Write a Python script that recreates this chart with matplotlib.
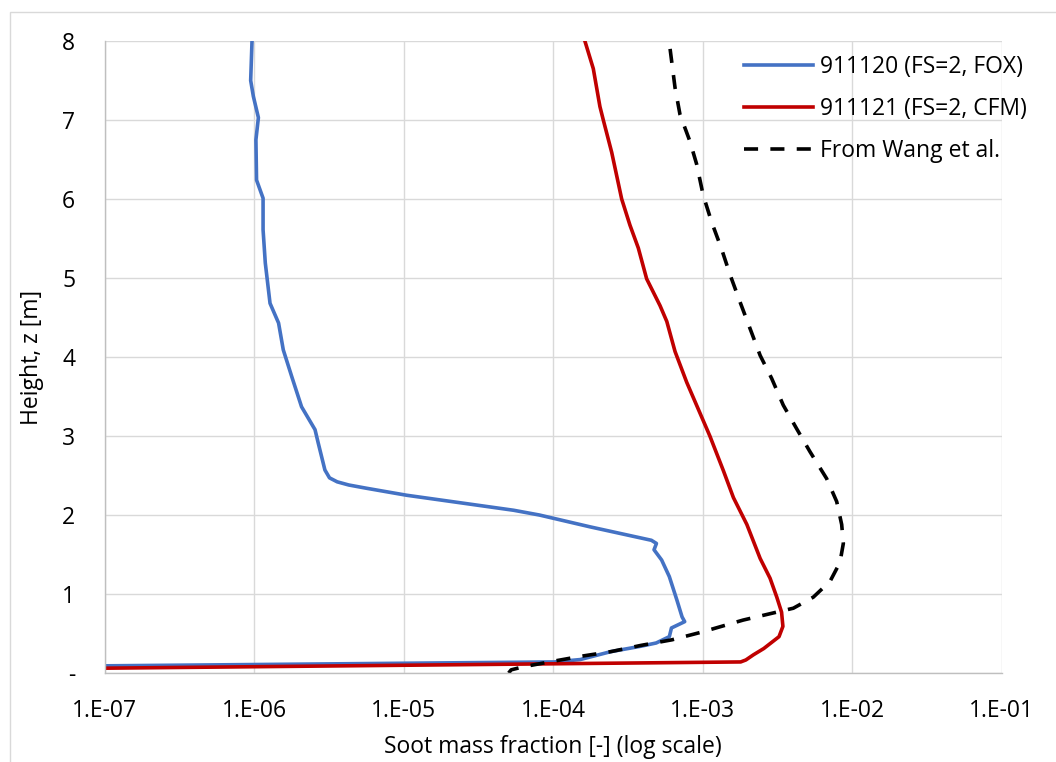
import matplotlib
matplotlib.use("Agg")
import matplotlib.pyplot as plt
from matplotlib.patches import Rectangle
from matplotlib.ticker import FixedLocator, FixedFormatter

plt.rcParams['font.family'] = ['Open Sans', 'DejaVu Sans']

# 911120 (FS=2, FOX): soot mass fraction vs height
fox_z = [8.0, 7.5, 7.3, 7.03, 6.75, 6.24, 6.01, 5.61, 5.19, 4.68, 4.43, 4.09, 3.75, 3.37,
         3.08, 2.91, 2.57, 2.47, 2.42, 2.38, 2.34, 2.30, 2.25, 2.15, 2.06, 2.00, 1.85,
         1.68, 1.64, 1.56, 1.43, 1.22, 0.92, 0.71, 0.65, 0.57, 0.46, 0.38, 0.34, 0.27,
         0.17, 0.14, 0.09]
fox_y = [9.7e-7, 9.5e-7, 9.9e-7, 1.07e-6, 1.03e-6, 1.04e-6, 1.15e-6, 1.15e-6, 1.19e-6,
         1.28e-6, 1.46e-6, 1.57e-6, 1.79e-6, 2.08e-6, 2.56e-6, 2.69e-6, 2.98e-6, 3.2e-6,
         3.6e-6, 4.3e-6, 5.6e-6, 7.4e-6, 1.05e-5, 2.5e-5, 5.45e-5, 8.1e-5, 1.77e-4,
         4.55e-4, 4.92e-4, 4.74e-4, 5.33e-4, 6.0e-4, 6.75e-4, 7.3e-4, 7.6e-4, 6.2e-4,
         6.0e-4, 4.9e-4, 3.9e-4, 2.43e-4, 1.52e-4, 1.02e-4, 9.0e-8]

# 911121 (FS=2, CFM)
cfm_z = [7.99, 7.65, 7.17, 7.0, 6.59, 6.0, 5.67, 5.38, 4.99, 4.65, 4.45, 4.07, 3.68,
         3.29, 3.0, 2.56, 2.22, 1.88, 1.45, 1.20, 0.96, 0.77, 0.59, 0.46, 0.31, 0.23,
         0.165, 0.14, 0.06]
cfm_y = [1.64e-4, 1.86e-4, 2.06e-4, 2.17e-4, 2.47e-4, 2.88e-4, 3.27e-4, 3.72e-4,
         4.23e-4, 5.2e-4, 5.77e-4, 6.55e-4, 7.84e-4, 9.62e-4, 1.12e-3, 1.38e-3,
         1.61e-3, 1.98e-3, 2.43e-3, 2.83e-3, 3.14e-3, 3.38e-3, 3.45e-3, 3.25e-3,
         2.57e-3, 2.19e-3, 1.95e-3, 1.80e-3, 9.0e-8]

# From Wang et al.
wang_z = [7.90, 7.41, 7.07, 6.73, 6.44, 6.05, 5.71, 5.37, 5.04, 4.70, 4.36, 4.02, 3.73,
          3.39, 3.09, 2.80, 2.46, 2.17, 1.88, 1.64, 1.40, 1.16, 0.96, 0.82, 0.67, 0.52,
          0.42, 0.35, 0.27, 0.21, 0.14, 0.08, 0.04, 0.0]
wang_y = [6.07e-4, 6.55e-4, 7.07e-4, 8.24e-4, 9.14e-4, 1.01e-3, 1.15e-3, 1.34e-3,
          1.53e-3, 1.78e-3, 2.08e-3, 2.43e-3, 2.90e-3, 3.47e-3, 4.27e-3, 5.24e-3,
          6.77e-3, 7.90e-3, 8.53e-3, 8.75e-3, 8.31e-3, 7.13e-3, 5.51e-3, 4.05e-3,
          1.87e-3, 9.98e-4, 6.24e-4, 3.89e-4, 2.43e-4, 1.52e-4, 9.46e-5, 6.38e-5,
          5.25e-5, 5.05e-5]

x_ticks = [1e-7, 1e-6, 1e-5, 1e-4, 1e-3, 1e-2, 1e-1]
x_labels = ['1.E-07', '1.E-06', '1.E-05', '1.E-04', '1.E-03', '1.E-02', '1.E-01']
y_ticks = [0, 1, 2, 3, 4, 5, 6, 7, 8]
y_labels = ['-', '1', '2', '3', '4', '5', '6', '7', '8']

W, H = 1056, 762
fig = plt.figure(figsize=(W / 100, H / 100), dpi=100)
ax = fig.add_axes([104.5 / W, (H - 673) / H, (1001.5 - 104.5) / W, (673 - 41) / H])

# chart area border (cropped on right/bottom)
fig.patches.append(Rectangle((10 / W, -0.1), 1.2, 1 - 12 / H + 0.1, transform=fig.transFigure,
                             fill=False, edgecolor='#d9d9d9', linewidth=1.0))

lw = 2.6
ax.plot(fox_y, fox_z, color='#4472C4', linewidth=lw, label='911120 (FS=2, FOX)',
        solid_joinstyle='round')
ax.plot(cfm_y, cfm_z, color='#C00000', linewidth=lw, label='911121 (FS=2, CFM)',
        solid_joinstyle='round')
ax.plot(wang_y, wang_z, color='black', linewidth=lw, label='From Wang et al.',
        dashes=(3.9, 3.4), dash_capstyle='butt')

ax.set_xscale('log')
ax.set_xlim(1e-7, 1e-1)
ax.set_ylim(0, 8)
ax.xaxis.set_major_locator(FixedLocator(x_ticks))
ax.xaxis.set_major_formatter(FixedFormatter(x_labels))
ax.xaxis.set_minor_locator(FixedLocator([]))
ax.yaxis.set_major_locator(FixedLocator(y_ticks))
ax.yaxis.set_major_formatter(FixedFormatter(y_labels))

ax.grid(True, color='#d9d9d9', linewidth=1.0)
ax.set_axisbelow(True)
for side in ['top', 'right']:
    ax.spines[side].set_visible(False)
for side in ['left', 'bottom']:
    ax.spines[side].set_color('#bfbfbf')
    ax.spines[side].set_linewidth(1.0)
ax.tick_params(axis='x', length=0, pad=19, labelsize=16.5, colors='black')
ax.tick_params(axis='y', length=0, pad=21, labelsize=16.5, colors='black')

ax.set_xlabel('Soot mass fraction [-] (log scale)', fontsize=16.5)
ax.set_ylabel('Height, z [m]', fontsize=16.5)
ax.xaxis.set_label_coords(0.5, -0.098)
ax.yaxis.set_label_coords(-0.068, 0.5)

leg = ax.legend(loc='upper left', bbox_to_anchor=(744 / W, 1 - 55 / H),
                bbox_transform=fig.transFigure, frameon=False, fontsize=16.5,
                handlelength=3.0, handletextpad=0.3, labelspacing=0.78, borderpad=0,
                borderaxespad=0)

fig.savefig('out.png', dpi=100)
